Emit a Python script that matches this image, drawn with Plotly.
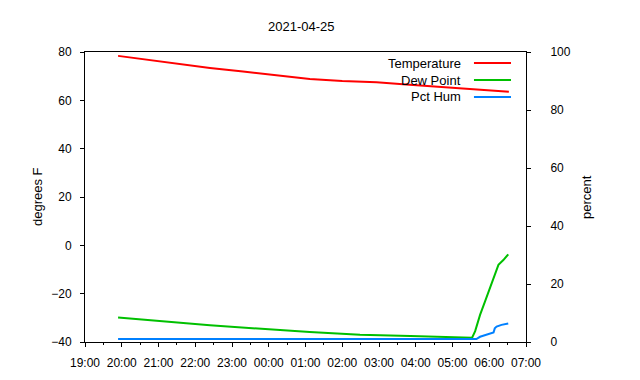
import plotly.graph_objects as go

# ---- data ----
temp_times = ["2021-04-24 19:54", "2021-04-24 20:35", "2021-04-24 21:30", "2021-04-24 22:24",
              "2021-04-24 23:18", "2021-04-25 00:15", "2021-04-25 01:07", "2021-04-25 02:00",
              "2021-04-25 02:56", "2021-04-25 03:50", "2021-04-25 04:45", "2021-04-25 05:30",
              "2021-04-25 06:17", "2021-04-25 06:32"]
temp_vals = [78.4, 77.0, 75.0, 73.4, 71.9, 70.2, 68.8, 68.0, 67.5, 66.4, 65.4, 64.6, 64.0, 63.6]

dew_times = ["2021-04-24 19:54", "2021-04-24 22:24", "2021-04-25 01:07", "2021-04-25 02:29",
             "2021-04-25 03:51", "2021-04-25 05:12", "2021-04-25 05:32", "2021-04-25 05:37",
             "2021-04-25 05:45", "2021-04-25 05:53", "2021-04-25 06:01", "2021-04-25 06:09",
             "2021-04-25 06:15", "2021-04-25 06:23", "2021-04-25 06:31"]
dew_vals = [-29.9, -33.1, -35.9, -37.0, -37.5, -38.0, -38.2, -35.5, -28.8, -23.3, -17.8, -13.0,
            -8.1, -6.1, -3.7]

hum_times = ["2021-04-24 19:54", "2021-04-25 05:39", "2021-04-25 05:45", "2021-04-25 05:53",
             "2021-04-25 06:01", "2021-04-25 06:07", "2021-04-25 06:09", "2021-04-25 06:12",
             "2021-04-25 06:20", "2021-04-25 06:31"]
hum_vals = [1.0, 1.0, 1.8, 2.4, 3.0, 3.3, 4.7, 5.3, 5.9, 6.4]

series_names = ["Temperature", "Dew Point", "Pct Hum"]
series_colors = ["#ff0000", "#00c000", "#0080ff"]

x_range = ["2021-04-24 19:00", "2021-04-25 07:00"]
y_range = [-40, 80]
y2_range = [0, 100]
title_text = "2021-04-25"
ylabel = "degrees F"
y2label = "percent"

FONT = "Liberation Sans, Arial, sans-serif"

fig = go.Figure()
fig.add_trace(go.Scatter(x=temp_times, y=temp_vals, mode="lines", name=series_names[0],
                         line=dict(color=series_colors[0], width=2), yaxis="y"))
fig.add_trace(go.Scatter(x=dew_times, y=dew_vals, mode="lines", name=series_names[1],
                         line=dict(color=series_colors[1], width=2), yaxis="y"))
fig.add_trace(go.Scatter(x=hum_times, y=hum_vals, mode="lines", name=series_names[2],
                         line=dict(color=series_colors[2], width=2), yaxis="y2"))

axis_common = dict(showline=True, linecolor="black", linewidth=1, showgrid=False,
                   zeroline=False, ticks="outside", ticklen=4, tickcolor="black",
                   tickfont=dict(family=FONT, size=12, color="black"))

# the page body has an 8px margin, so margins are reduced by 8px to compensate
fig.update_layout(
    width=640, height=380,
    margin=dict(l=77, r=122, t=44, b=46),
    paper_bgcolor="white", plot_bgcolor="white",
    showlegend=False,
    font=dict(family=FONT, size=12, color="black"),
    xaxis=dict(type="date", range=x_range, dtick=3600000, tickformat="%H:%M",
               mirror=True, minor=dict(dtick=1800000, ticks="outside", ticklen=2,
                                       tickcolor="black"),
               ticklabelstandoff=6, **axis_common),
    yaxis=dict(range=y_range, dtick=20, ticklabelstandoff=6, **axis_common),
    yaxis2=dict(range=y2_range, dtick=20, overlaying="y", side="right",
                ticklabelstandoff=17, **axis_common),
)

# title and axis labels
fig.add_annotation(text=title_text, xref="paper", yref="paper", x=0.492, y=1.0, yshift=26,
                   showarrow=False, font=dict(family=FONT, size=13),
                   xanchor="center", yanchor="middle")
fig.add_annotation(text=ylabel, xref="paper", yref="paper", x=-0.1088, y=0.5, textangle=-90,
                   xanchor="center", yanchor="middle",
                   showarrow=False, font=dict(family=FONT, size=13))
fig.add_annotation(text=y2label, xref="paper", yref="paper", x=1.136, y=0.5, textangle=-90,
                   xanchor="center", yanchor="middle",
                   showarrow=False, font=dict(family=FONT, size=13))

# gnuplot-style key (text right-aligned, sample line on the right)
key_y = [0.962, 0.9034, 0.845]
for name, color, ky in zip(series_names, series_colors, key_y):
    fig.add_annotation(text=name, xref="paper", yref="paper", x=0.857, y=ky,
                       xanchor="right", yanchor="middle", showarrow=False,
                       font=dict(family=FONT, size=13))
    fig.add_shape(type="line", xref="paper", yref="paper", x0=0.882, x1=0.966, y0=ky, y1=ky,
                  line=dict(color=color, width=2))

fig.write_html("out.html")
